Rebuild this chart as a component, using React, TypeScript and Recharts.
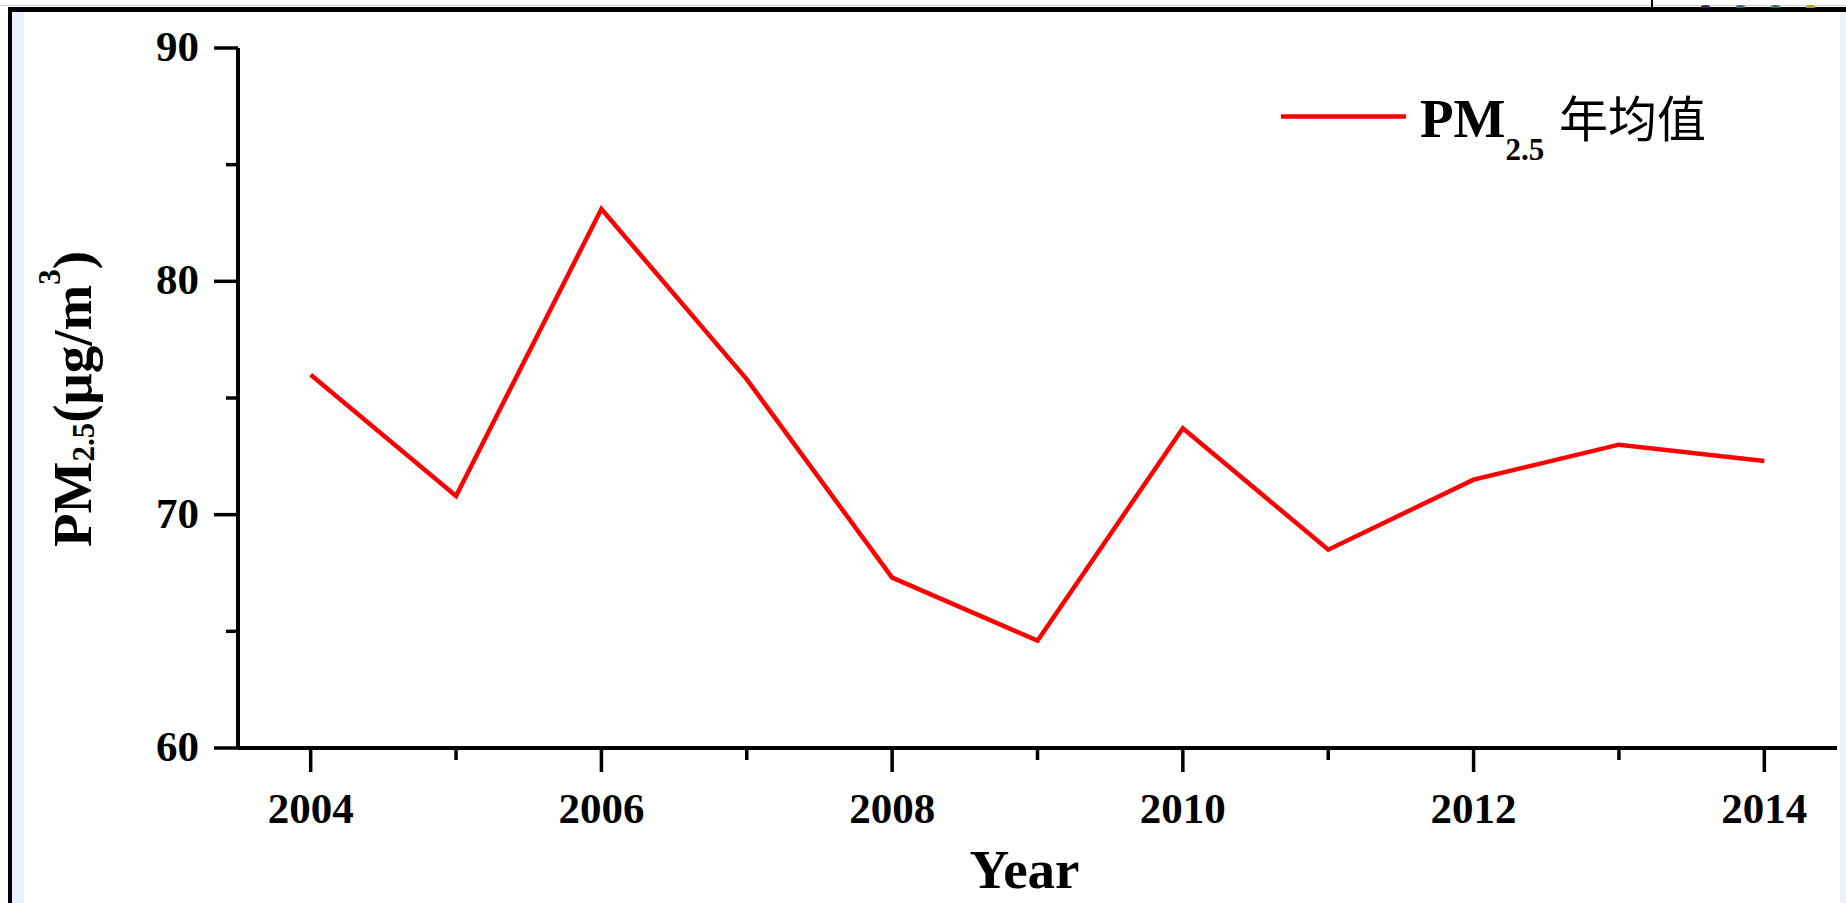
import React from "react";
import { LineChart, Line, XAxis, YAxis, Legend, Label } from "recharts";

// annual mean PM2.5 (μg/m³), 2004–2014
const years = [2004, 2005, 2006, 2007, 2008, 2009, 2010, 2011, 2012, 2013, 2014];
const pm25 = [76.0, 70.8, 83.1, 75.8, 67.3, 64.6, 73.7, 68.5, 71.5, 73.0, 72.3];

const yearTicks = [2004, 2005, 2006, 2007, 2008, 2009, 2010, 2011, 2012, 2013, 2014];
const valueTicks = [60, 65, 70, 75, 80, 85, 90];

const seriesName = "年均值";

const data = years.map((year, i) => ({ year, pm25: pm25[i] }));

const SERIF = "'Times New Roman', 'Liberation Serif', serif";
const CJK = "'Noto Sans CJK SC', sans-serif";
const RED = "#ff0000";

const MAJOR = 24;
const MINOR = 12;
const Y_GAP = 15;

// even years get a long tick and a label, odd years only a short tick
function XTick(props: any) {
    const { x, y, payload } = props;
    const major = payload.value % 2 === 0;
    const axisY = y - MAJOR;
    return (
        <g>
            <line
                x1={x}
                x2={x}
                y1={axisY}
                y2={axisY + (major ? MAJOR : MINOR)}
                stroke="#000"
                strokeWidth={3.5}
            />
            {major && (
                <text
                    x={x}
                    y={y}
                    dy={51}
                    textAnchor="middle"
                    fontFamily={SERIF}
                    fontWeight="bold"
                    fontSize={43}
                    fill="#000"
                >
                    {payload.value}
                </text>
            )}
        </g>
    );
}

function YTick(props: any) {
    const { x, y, payload } = props;
    const major = payload.value % 10 === 0;
    const axisX = x + Y_GAP + MAJOR;
    return (
        <g>
            <line
                x1={axisX - (major ? MAJOR : MINOR)}
                x2={axisX}
                y1={y}
                y2={y}
                stroke="#000"
                strokeWidth={3.5}
            />
            {major && (
                <text
                    x={x}
                    y={y}
                    dy={13}
                    textAnchor="end"
                    fontFamily={SERIF}
                    fontWeight="bold"
                    fontSize={43}
                    fill="#000"
                >
                    {payload.value}
                </text>
            )}
        </g>
    );
}

function YTitle({ viewBox }: any) {
    const cx = viewBox.x - 47;
    const cy = viewBox.y + viewBox.height / 2 + 1;
    return (
        <text
            transform={`rotate(-90 ${cx} ${cy})`}
            x={cx}
            y={cy}
            textAnchor="middle"
            fontFamily={SERIF}
            fontWeight="bold"
            fontSize={55}
            fill="#000"
        >
            PM
            <tspan fontSize={31} dy={3}>2.5</tspan>
            <tspan dy={-3}>(μg/m</tspan>
            <tspan fontSize={31} dy={-31}>3</tspan>
            <tspan dy={31}>)</tspan>
        </text>
    );
}

function XTitle({ viewBox }: any) {
    return (
        <text
            x={viewBox.x + viewBox.width / 2 - 13}
            y={viewBox.y + 140}
            textAnchor="middle"
            fontFamily={SERIF}
            fontWeight="bold"
            fontSize={55}
            fill="#000"
        >
            Year
        </text>
    );
}

function LegendBox({ payload }: any) {
    const color = payload && payload[0] ? payload[0].color : RED;
    return (
        <svg width={460} height={110}>
            <line x1={11} x2={136} y1={46.6} y2={46.6} stroke={color} strokeWidth={4.5} />
            <text x={150} y={66.5} fontFamily={SERIF} fontWeight="bold" fontSize={55} fill="#000">
                PM
                <tspan fontSize={31} dy={23}>2.5</tspan>
            </text>
            <text x={289} y={66.5} fontFamily={CJK} fontSize={49} fill="#000">
                {seriesName}
            </text>
        </svg>
    );
}

const box = (style: React.CSSProperties) => (
    <div style={{ position: "absolute", ...style }} />
);

export default function App() {
    return (
        <div
            style={{
                position: "absolute",
                left: 0,
                top: 0,
                width: 1846,
                height: 903,
                background: "#fff",
                overflow: "hidden",
            }}
        >
            <LineChart
                width={1846}
                height={903}
                data={data}
                margin={{ top: 48, right: 9, left: 138, bottom: 95 }}
            >
                <XAxis
                    dataKey="year"
                    type="number"
                    domain={[2003.5, 2014.5]}
                    ticks={yearTicks}
                    interval={0}
                    height={60}
                    tickSize={MAJOR}
                    tickMargin={0}
                    tickLine={false}
                    axisLine={{ stroke: "#000", strokeWidth: 4 }}
                    tick={<XTick />}
                >
                    <Label content={<XTitle />} />
                </XAxis>
                <YAxis
                    type="number"
                    domain={[60, 90]}
                    ticks={valueTicks}
                    interval={0}
                    width={100}
                    tickSize={MAJOR}
                    tickMargin={Y_GAP}
                    tickLine={false}
                    axisLine={{ stroke: "#000", strokeWidth: 4 }}
                    tick={<YTick />}
                >
                    <Label content={<YTitle />} />
                </YAxis>
                <Legend
                    layout="vertical"
                    align="center"
                    verticalAlign="middle"
                    content={<LegendBox />}
                    wrapperStyle={{ left: 1270, top: 70, width: 460, height: 110 }}
                />
                <Line
                    type="linear"
                    dataKey="pm25"
                    name={seriesName}
                    stroke={RED}
                    strokeWidth={4.5}
                    dot={false}
                    activeDot={false}
                    isAnimationActive={false}
                />
            </LineChart>

            {/* window frame around the figure */}
            {box({ left: 0, top: 5, width: 1846, height: 1, background: "#cfcfcf" })}
            {box({ left: 8, top: 7, width: 1838, height: 5, background: "#000" })}
            {box({ left: 8, top: 7, width: 4, height: 896, background: "#000" })}
            {box({ left: 12, top: 12, width: 12, height: 891, background: "#edf1f9" })}
            {box({ left: 1840, top: 12, width: 6, height: 891, background: "#edf1f9" })}
            {box({ left: 1651, top: 0, width: 2, height: 7, background: "#000" })}
            {box({ left: 1701, top: 5, width: 9, height: 3, borderRadius: "50% 50% 0 0", background: "#3a1a6a" })}
            {box({ left: 1736, top: 5, width: 9, height: 3, borderRadius: "50% 50% 0 0", background: "#2f6a66" })}
            {box({ left: 1771, top: 5, width: 9, height: 3, borderRadius: "50% 50% 0 0", background: "#2f6a66" })}
            {box({ left: 1806, top: 5, width: 9, height: 3, borderRadius: "50% 50% 0 0", background: "#a89a10" })}
        </div>
    );
}
